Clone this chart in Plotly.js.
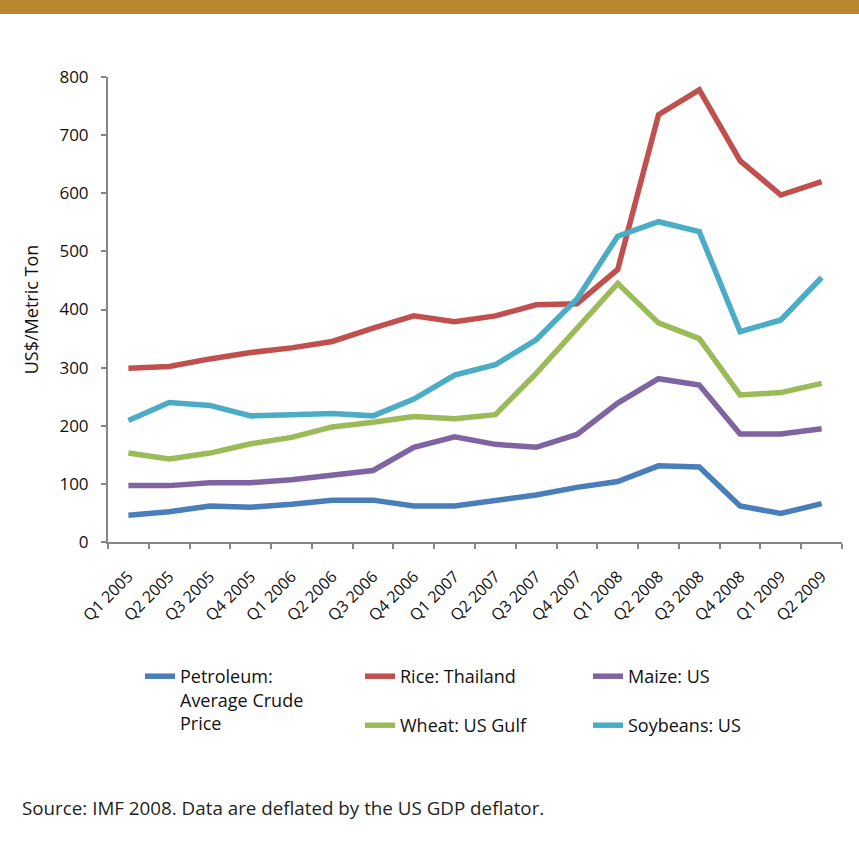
<!DOCTYPE html>
<html>
<head>
<meta charset="utf-8">
<script src="https://cdn.plot.ly/plotly-3.0.1.min.js"></script>
<style>
  html, body { margin: 0; padding: 0; background: #fff; }
  #band { position: absolute; left: 0; top: 0; width: 859px; height: 14px; background: #B9872E; z-index: 5; }
  #chart { width: 859px; height: 846px; }
</style>
</head>
<body>
<div id="band"></div>
<div id="chart"></div>
<script>
const quarters = ["Q1 2005","Q2 2005","Q3 2005","Q4 2005","Q1 2006","Q2 2006","Q3 2006","Q4 2006",
  "Q1 2007","Q2 2007","Q3 2007","Q4 2007","Q1 2008","Q2 2008","Q3 2008","Q4 2008","Q1 2009","Q2 2009"];
const petroleum = [46, 52, 62, 60, 65, 72, 72, 62, 62, 72, 81, 94, 104, 131, 129, 62, 49, 66];
const rice      = [299, 302, 315, 326, 334, 345, 368, 389, 379, 389, 408, 410, 469, 735, 778, 656, 597, 620];
const maize     = [97, 97, 102, 102, 107, 115, 123, 163, 181, 168, 163, 185, 239, 281, 270, 186, 186, 195];
const wheat     = [153, 143, 153, 169, 180, 198, 206, 216, 212, 219, 290, 367, 445, 377, 350, 253, 257, 273];
const soybeans  = [209, 240, 235, 217, 219, 221, 217, 246, 287, 305, 348, 418, 526, 551, 534, 362, 382, 455];
const yTicks = [0, 100, 200, 300, 400, 500, 600, 700, 800];

const FONT = "'Open Sans', Lato, sans-serif";
const W = 859, H = 846;

function tr(name, y, color, legend) {
  return { type: "scatter", mode: "lines", x: quarters, y: y, name: name,
    line: { color: color, width: 5.5 }, legend: legend, hoverinfo: "skip" };
}

const data = [
  tr("Petroleum:<br>Average Crude<br>Price", petroleum, "#4A7EBB", "legend"),
  tr("Rice: Thailand", rice, "#C0504D", "legend2"),
  tr("Maize: US", maize, "#8064A2", "legend2"),
  tr("Wheat: US Gulf", wheat, "#9BBB59", "legend3"),
  tr("Soybeans: US", soybeans, "#4BACC6", "legend3")
];

const legBase = {
  orientation: "h", xref: "container", yref: "container", xanchor: "left", yanchor: "top",
  bgcolor: "rgba(0,0,0,0)", borderwidth: 0, valign: "top",
  font: { family: FONT, size: 18, color: "#111" }, traceorder: "normal", itemclick: false
};

const layout = {
  width: W, height: H,
  margin: { l: 108, r: 17, t: 77, b: 304 },
  paper_bgcolor: "#fff", plot_bgcolor: "#fff",
  showlegend: true,
  font: { family: FONT, size: 16, color: "#111" },
  xaxis: {
    type: "category", categoryorder: "array", categoryarray: quarters, range: [-0.5, 17.5],
    tickson: "boundaries", ticks: "outside", ticklen: 5, tickwidth: 2, tickcolor: "#868686",
    showline: true, linecolor: "#868686", linewidth: 2, showgrid: false, zeroline: false,
    tickangle: -45, ticklabelstandoff: 17,
    tickfont: { family: FONT, size: 16, color: "#111" }, fixedrange: true
  },
  yaxis: {
    range: [0, 800], tickvals: yTicks, ticktext: yTicks.map(String),
    ticks: "outside", ticklen: 5, tickwidth: 2, tickcolor: "#868686",
    showline: true, linecolor: "#868686", linewidth: 2, showgrid: false, zeroline: false,
    ticklabelstandoff: 9,
    tickfont: { family: FONT, size: 17, color: "#111" },
    title: { text: "US$/Metric Ton", font: { family: FONT, size: 18, color: "#111" }, standoff: 16 },
    fixedrange: true
  },
  legend: Object.assign({}, legBase, { x: 140 / W, y: 1 - 658 / H }),
  legend2: Object.assign({}, legBase, { x: 360 / W, y: 1 - 658 / H, entrywidth: 183, entrywidthmode: "pixels" }),
  legend3: Object.assign({}, legBase, { x: 360 / W, y: 1 - 707 / H, entrywidth: 183, entrywidthmode: "pixels" }),
  annotations: [{
    xref: "paper", yref: "paper", x: (20 - 108) / 734, y: (542 - 808) / 465,
    xanchor: "left", yanchor: "middle", showarrow: false,
    text: "Source: IMF 2008. Data are deflated by the US GDP deflator.",
    font: { family: FONT, size: 18.8, color: "#231F20" }
  }]
};

Plotly.newPlot("chart", data, layout, { displayModeBar: false, staticPlot: true });
</script>
</body>
</html>
